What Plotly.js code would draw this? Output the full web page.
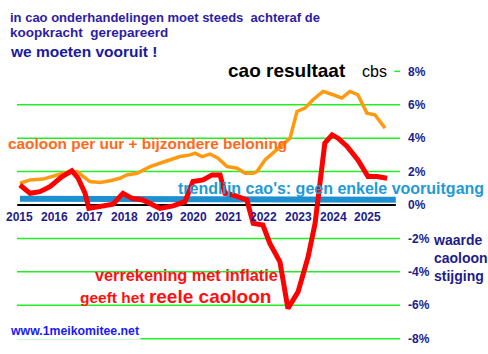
<!DOCTYPE html>
<html><head><meta charset="utf-8">
<script src="https://cdn.plot.ly/plotly-3.0.1.min.js"></script>
<style>body{margin:0;background:#fff}#c{width:488px;height:354px}</style>
</head><body><div id="c"></div>
<script>
// Orange: caoloon per uur + bijzondere beloning (%)
const orangeX = [2015.00,2015.29,2015.66,2015.95,2016.24,2016.64,2016.81,2017.01,2017.30,2017.59,2017.87,2018.07,2018.36,2018.45,2018.74,2019.02,2019.31,2019.60,2019.89,2020.03,2020.23,2020.46,2020.69,2020.95,2021.24,2021.47,2021.70,2021.81,2022.04,2022.27,2022.56,2022.76,2022.96,2023.19,2023.42,2023.71,2024.00,2024.25,2024.48,2024.71,2024.97,2025.20,2025.49];
const orangeY = [1.3,1.5,1.55,1.7,1.9,2.0,1.7,1.4,1.35,1.45,1.6,1.8,1.9,2.0,2.3,2.5,2.7,2.9,3.0,3.1,2.9,3.05,2.8,2.3,2.2,1.9,1.9,2.0,2.7,3.1,3.6,4.0,5.6,5.8,6.3,6.8,6.6,6.4,6.8,6.6,5.5,5.4,4.6];
// Red: reele caoloon (na inflatie) (%)
const redX = [2015.00,2015.29,2015.57,2015.86,2016.21,2016.49,2016.67,2016.87,2016.98,2017.30,2017.67,2017.96,2018.22,2018.53,2019.02,2019.40,2019.74,2019.97,2020.26,2020.52,2020.75,2020.89,2021.12,2021.52,2021.61,2021.70,2021.98,2022.18,2022.47,2022.70,2022.99,2023.28,2023.48,2023.68,2023.76,2023.97,2024.14,2024.40,2024.71,2025.00,2025.26,2025.55];
const redY = [1.2,0.7,0.8,1.1,1.7,2.05,1.6,0.7,-0.2,-0.05,0.05,0.7,0.4,0.3,-0.2,-0.05,0.2,1.4,1.5,1.8,1.8,0.7,0.6,0.3,-0.5,-1.1,-1.2,-2.3,-3.4,-6.2,-5.2,-3.1,-1.1,2.5,3.7,4.2,4.0,3.5,2.7,1.7,1.7,1.6];
// Blue trendline
const trendX = [2015.0, 2025.8];
const trendY = [0.38, 0.32];
// Zero line
const zeroX = [2014.92, 2025.8];
const zeroY = [0, 0];
// Axis ticks
const years = [2015,2016,2017,2018,2019,2020,2021,2022,2023,2024,2025];
const yTicks = [-8,-6,-4,-2,0,2,4,6,8];
const gridVals = [-8,-6,-4,-2,2,4,6];

const navy = '#1c1c8c';
const F = 'Liberation Sans, Arial, sans-serif';

const PW = 488, PH = 354, L = 17, R = 88, T = 60, B = 4;
function px(x){ return (x - L) / (PW - L - R); }
function py(y){ return 1 - (y - T) / (PH - T - B); }

const shapes = gridVals.map(v => ({type:'line', xref:'paper', x0:0, x1:1, yref:'y', y0:v, y1:v, line:{color:'#22ee22', width:1.5}, layer:'below'}));
shapes.push({type:'line', xref:'paper', x0:0.985, x1:1, yref:'y', y0:8, y1:8, line:{color:'#22ee22', width:1.5}, layer:'below'});

const annotations = years.map(y => ({x:y, y:-0.72, xref:'x', yref:'y', text:String(y), showarrow:false, font:{family:F, size:12, color:navy, weight:'bold'}}));

function txt(text, x, y, size, color, opts) {
  return Object.assign({x:x, y:y, xref:'paper', yref:'paper', xanchor:'left', yanchor:'middle', text:text, showarrow:false, font:{family:F, size:size, color:color, weight:'bold'}}, opts||{});
}

annotations.push(txt('in cao onderhandelingen moet steeds  achteraf de', px(8), py(18), 13, '#2e1ca6'));
annotations.push(txt('koopkracht  gerepareerd', px(8), py(33), 13.5, '#2e1ca6'));
annotations.push(txt('we moeten vooruit !', px(8), py(51), 15.5, '#1a1a9c'));
annotations.push(txt('cao resultaat', px(226), py(71), 19, '#000000', {bgcolor:'#ffffff'}));
annotations.push(txt('cbs', px(360), py(72), 16, '#000000', {font:{family:F, size:16, color:'#000'}, bgcolor:'#ffffff'}));
annotations.push(txt('caoloon per uur + bijzondere beloning', px(6), py(143), 15.4, '#ff6a1a'));
annotations.push(txt("trendlijn cao's: geen enkele vooruitgang", px(176), py(188), 16, '#1e9ad6'));
annotations.push(txt('verrekening met inflatie', px(93), py(275), 16.3, '#ff1010'));
annotations.push(txt('geeft het <span style="font-size:19px">reele caoloon</span>', px(78), py(296), 15.5, '#ff1010'));
annotations.push(txt('www.1meikomitee.net', px(8), py(331), 12.3, '#1a1aff', {bgcolor:'#ffffff'}));
annotations.push(txt('waarde<br>caoloon<br>stijging', px(431), py(258), 14, navy, {align:'left'}));

const data = [
  {x:trendX, y:trendY, mode:'lines', line:{color:'#1e90d0', width:6}, hoverinfo:'skip'},
  {x:zeroX, y:zeroY, mode:'lines', line:{color:'#000000', width:2}, hoverinfo:'skip'},
  {x:orangeX, y:orangeY, mode:'lines', line:{color:'#ff9a10', width:3.5}, hoverinfo:'skip'},
  {x:redX, y:redY, mode:'lines', line:{color:'#ff0000', width:5}, hoverinfo:'skip'}
];

const layout = {
  width:PW, height:PH,
  margin:{l:L, r:R, t:T, b:B, pad:0},
  paper_bgcolor:'#fff', plot_bgcolor:'#fff',
  showlegend:false,
  xaxis:{range:[2014.914, 2025.92], showgrid:false, zeroline:false, showticklabels:false, showline:false, ticks:''},
  yaxis:{range:[-8.68, 8.68], side:'right', showgrid:false, zeroline:false, showline:false,
         tickvals:yTicks, ticktext:yTicks.map(v => v + '%'), ticks:'', ticklabelstandoff:7,
         tickfont:{family:F, size:12, color:navy, weight:'bold'}},
  shapes:shapes,
  annotations:annotations
};
Plotly.newPlot('c', data, layout, {staticPlot:true, displayModeBar:false});
</script></body></html>
